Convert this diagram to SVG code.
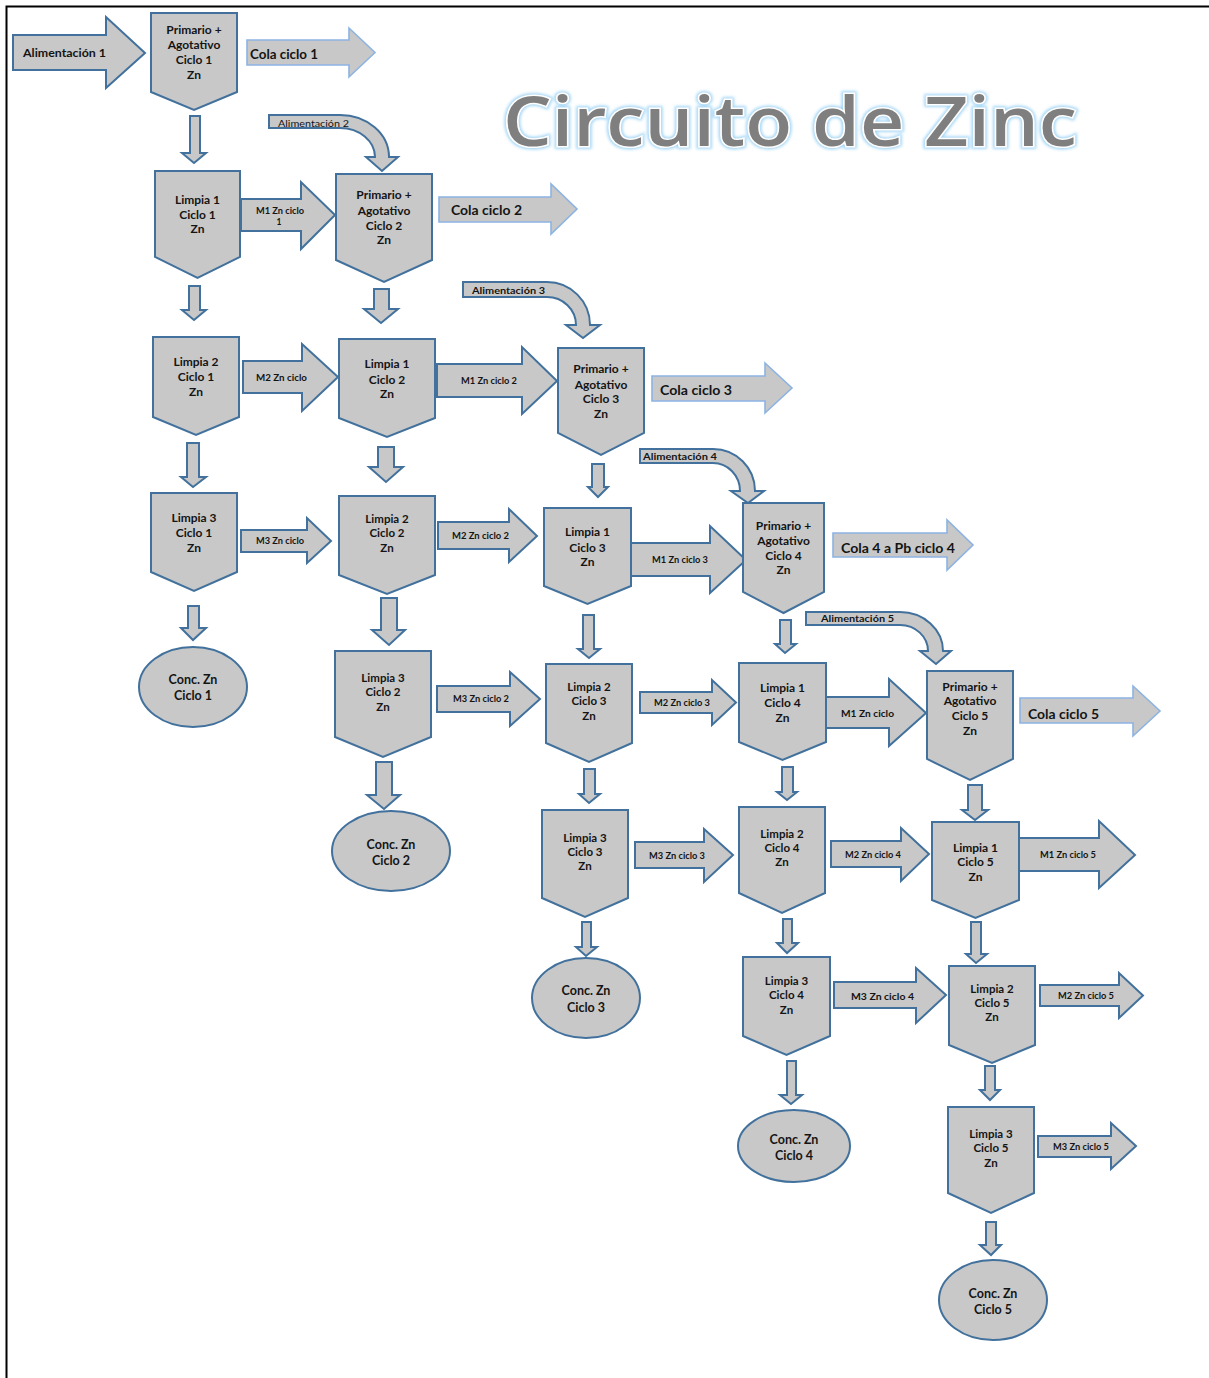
<svg xmlns="http://www.w3.org/2000/svg" width="1209" height="1378" viewBox="0 0 1209 1378">
  <defs>
    <style>
      .n { fill:#c8c8c8; stroke:#41719c; stroke-width:2; stroke-linejoin:miter; }
      .c { fill:#c8c8c8; stroke:#8db3e2; stroke-width:1.6; }
      text { font-family: Lato, "Liberation Sans", sans-serif; font-weight:700; fill:#141414; }
      .t { font-size:12px; text-anchor:middle; }
      .k { font-size:11.5px; }
      .s { font-size:8.5px; text-anchor:middle; }
      .l { font-size:13.5px; }
      .f { font-size:9.5px; }
      .reg { font-weight:400; }
      .ttl { font-family: "Open Sans", Lato, sans-serif; font-weight:600; font-size:68px; }
    </style>
    <filter id="glow" x="-5%" y="-30%" width="110%" height="160%">
      <feGaussianBlur stdDeviation="1.8"/>
    </filter>
  </defs>
  <rect width="1209" height="1378" fill="#ffffff"/>
  <!-- page frame -->
  <path d="M6.5,1378 V6.5 H1209" fill="none" stroke="#000" stroke-width="2"/>

  <!-- title -->
  <g id="title">
    <text class="ttl" x="503" y="146" textLength="574" lengthAdjust="spacingAndGlyphs" fill="none" stroke="#9ad2f6" stroke-width="6" stroke-opacity="0.85" filter="url(#glow)">Circuito de Zinc</text>
    <text class="ttl" x="503" y="146" textLength="574" lengthAdjust="spacingAndGlyphs" fill="none" stroke="#ffffff" stroke-width="3">Circuito de Zinc</text>
    <text class="ttl" x="503" y="146" textLength="574" lengthAdjust="spacingAndGlyphs" style="fill:#7f7f7f">Circuito de Zinc</text>
  </g>

  <!-- connectors: flow arrows -->
  <g id="connectors">
    <!-- feed / tails -->
    <path class="n" d="M13,35 H106 V17 L145,53 L106,88 V70 H13 Z"/>
    <text class="f" x="23" y="57" textLength="83" lengthAdjust="spacingAndGlyphs" style="font-size:11px">Alimentación 1</text>
    <path class="c" d="M247,40 H349 V28 L375,52.5 L349,77 V65 H247 Z"/>
    <text class="l" x="250" y="59" textLength="68" lengthAdjust="spacingAndGlyphs">Cola ciclo 1</text>
    <path class="c" d="M439,197 H551 V184 L577,209 L551,234 V222 H439 Z"/>
    <text class="l" x="451" y="215" textLength="71" lengthAdjust="spacingAndGlyphs">Cola ciclo 2</text>
    <path class="c" d="M652,376 H765 V363 L792,388 L765,413 V401 H652 Z"/>
    <text class="l" x="660" y="395" textLength="72" lengthAdjust="spacingAndGlyphs">Cola ciclo 3</text>
    <path class="c" d="M833,533 H947 V520 L973,545 L947,570 V557 H833 Z"/>
    <text class="l" x="841" y="553" textLength="114" lengthAdjust="spacingAndGlyphs">Cola 4 a Pb ciclo 4</text>
    <path class="c" d="M1020,698 H1133 V686 L1160,711 L1133,736 V723 H1020 Z"/>
    <text class="l" x="1028" y="719" textLength="71" lengthAdjust="spacingAndGlyphs">Cola ciclo 5</text>

    <!-- curved feed arrows -->
    <path class="n" d="M269,115 H340 A49,42 0 0 1 389,157 H398 L382,171 L366,157 H375 A35,29 0 0 0 340,128 H269 Z"/>
    <text class="f reg" x="278" y="127" textLength="71" lengthAdjust="spacingAndGlyphs">Alimentación 2</text>
    <path class="n" d="M463,282 H547 A43,43 0 0 1 590,325 H600 L583,338 L566,325 H576 A29,28 0 0 0 547,297 H463 Z"/>
    <text class="f" x="472" y="294" textLength="73" lengthAdjust="spacingAndGlyphs">Alimentación 3</text>
    <path class="n" d="M640,449 H713 A42,42 0 0 1 755,491 H764 L748,503 L731,491 H740 A27,28 0 0 0 713,463 H640 Z"/>
    <text class="f" x="643" y="460" textLength="74" lengthAdjust="spacingAndGlyphs">Alimentación 4</text>
    <path class="n" d="M806,612 H900 A43,39 0 0 1 943,651 H951 L936,664 L920,651 H928 A28,26 0 0 0 900,625 H806 Z"/>
    <text class="f" x="821" y="622" textLength="73" lengthAdjust="spacingAndGlyphs">Alimentación 5</text>

    <!-- middlings arrows -->
    <path class="n" d="M241,199 H301 V182 L335,215 L301,249 V231 H241 Z"/>
    <text class="s" x="280" y="214" textLength="48" lengthAdjust="spacingAndGlyphs">M1 Zn ciclo</text>
    <text class="s" x="279" y="225">1</text>
    <path class="n" d="M243,361 H302 V344 L338,377 L302,411 V393 H243 Z"/>
    <text class="s" x="281.5" y="381" textLength="51" lengthAdjust="spacingAndGlyphs">M2 Zn ciclo</text>
    <path class="n" d="M437,364 H522 V347 L557,381 L522,414 V397 H437 Z"/>
    <text class="s" x="489" y="384" textLength="56" lengthAdjust="spacingAndGlyphs">M1 Zn ciclo 2</text>
    <path class="n" d="M241,530 H307 V518 L331,541 L307,563 V552 H241 Z"/>
    <text class="s" x="280" y="544" textLength="48" lengthAdjust="spacingAndGlyphs">M3 Zn ciclo</text>
    <path class="n" d="M438,522 H509 V509 L537,536 L509,562 V549 H438 Z"/>
    <text class="s" x="480.5" y="539" textLength="57" lengthAdjust="spacingAndGlyphs">M2 Zn ciclo 2</text>
    <path class="n" d="M631,543 H710 V526 L746,560 L710,593 V576 H631 Z"/>
    <text class="s" x="680" y="563" textLength="56" lengthAdjust="spacingAndGlyphs">M1 Zn ciclo 3</text>
    <path class="n" d="M437,686 H510 V672 L540,699 L510,726 V712 H437 Z"/>
    <text class="s" x="481" y="702" textLength="56" lengthAdjust="spacingAndGlyphs">M3 Zn ciclo 2</text>
    <path class="n" d="M640,692 H712 V680 L736,702.5 L712,725 V713 H640 Z"/>
    <text class="s" x="682" y="706" textLength="56" lengthAdjust="spacingAndGlyphs">M2 Zn ciclo 3</text>
    <path class="n" d="M826,697 H889 V679 L926,713 L889,746 V728 H826 Z"/>
    <text class="s" x="867.5" y="717" textLength="53" lengthAdjust="spacingAndGlyphs" style="font-size:9px">M1 Zn ciclo</text>
    <path class="n" d="M635,842 H704 V829 L733,855 L704,882 V868 H635 Z"/>
    <text class="s" x="677" y="859" textLength="56" lengthAdjust="spacingAndGlyphs">M3 Zn ciclo 3</text>
    <path class="n" d="M831,841 H901 V828 L929,854 L901,881 V867 H831 Z"/>
    <text class="s" x="873" y="858" textLength="56" lengthAdjust="spacingAndGlyphs">M2 Zn ciclo 4</text>
    <path class="n" d="M1019,838 H1099 V821 L1135,855 L1099,888 V871 H1019 Z"/>
    <text class="s" x="1068" y="858" textLength="56" lengthAdjust="spacingAndGlyphs">M1 Zn ciclo 5</text>
    <path class="n" d="M834,982 H916 V968 L946,995 L916,1023 V1008 H834 Z"/>
    <text class="s" x="882.5" y="1000" textLength="63" lengthAdjust="spacingAndGlyphs" style="font-size:9px">M3 Zn ciclo 4</text>
    <path class="n" d="M1040,985 H1119 V973 L1143,995.5 L1119,1018 V1006 H1040 Z"/>
    <text class="s" x="1086" y="999" textLength="56" lengthAdjust="spacingAndGlyphs">M2 Zn ciclo 5</text>
    <path class="n" d="M1038,1136 H1111 V1123 L1136,1146 L1111,1169 V1157 H1038 Z"/>
    <text class="s" x="1081" y="1150" textLength="56" lengthAdjust="spacingAndGlyphs">M3 Zn ciclo 5</text>

    <!-- downward transfers -->
    <path class="n" d="M190,116 H200 V153 H206 L194,163 L182,153 H190 Z"/>
    <path class="n" d="M189,286 H200 V310 H206 L194,320 L182,310 H189 Z"/>
    <path class="n" d="M374,289 H389 V309 H398 L381,323 L364,309 H374 Z"/>
    <path class="n" d="M187,443 H199 V477 H206 L193,487 L181,477 H187 Z"/>
    <path class="n" d="M378,447 H394 V467 H403 L386,482 L369,467 H378 Z"/>
    <path class="n" d="M592,464 H604 V487 H608 L598,497 L588,487 H592 Z"/>
    <path class="n" d="M188,606 H199 V628 H206 L193,640 L181,628 H188 Z"/>
    <path class="n" d="M381,598 H397 V630 H405 L389,645 L372,630 H381 Z"/>
    <path class="n" d="M583,615 H594 V649 H600 L589,658 L578,649 H583 Z"/>
    <path class="n" d="M780,620 H791 V644 H796 L785,653 L775,644 H780 Z"/>
    <path class="n" d="M376,762 H392 V795 H400 L384,809 L367,795 H376 Z"/>
    <path class="n" d="M584,769 H595 V794 H600 L589,803 L579,794 H584 Z"/>
    <path class="n" d="M782,767 H793 V792 H797 L787,800 L777,792 H782 Z"/>
    <path class="n" d="M968,785 H982 V810 H988 L975,820 L962,810 H968 Z"/>
    <path class="n" d="M582,922 H591 V947 H597 L586,956 L576,947 H582 Z"/>
    <path class="n" d="M783,919 H792 V943 H798 L787,953 L777,943 H783 Z"/>
    <path class="n" d="M971,922 H981 V954 H987 L976,963 L966,954 H971 Z"/>
    <path class="n" d="M787,1061 H796 V1095 H802 L791,1104 L780,1095 H787 Z"/>
    <path class="n" d="M985,1066 H995 V1090 H1000 L990,1100 L980,1090 H985 Z"/>
    <path class="n" d="M986,1222 H996 V1245 H1001 L991,1255 L980,1245 H986 Z"/>
  </g>

  <!-- cycle 1 -->
  <g id="primario-c1">
    <path class="n" d="M151,13 H237 V92 L194,110 L151,92 Z"/>
    <text class="t" x="194" y="34">Primario +</text>
    <text class="t" x="194" y="49">Agotativo</text>
    <text class="t" x="194" y="64">Ciclo 1</text>
    <text class="t" x="194" y="79">Zn</text>
  </g>
  <g id="limpia1-c1">
    <path class="n" d="M155,171 H240 V257 L197.5,278 L155,257 Z"/>
    <text class="t" x="197.5" y="204">Limpia 1</text>
    <text class="t" x="197.5" y="219">Ciclo 1</text>
    <text class="t" x="197.5" y="233">Zn</text>
  </g>
  <g id="limpia2-c1">
    <path class="n" d="M153,337 H239 V417 L196,435 L153,417 Z"/>
    <text class="t" x="196" y="366">Limpia 2</text>
    <text class="t" x="196" y="381">Ciclo 1</text>
    <text class="t" x="196" y="396">Zn</text>
  </g>
  <g id="limpia3-c1">
    <path class="n" d="M151,493 H237 V572 L194,591 L151,572 Z"/>
    <text class="t" x="194" y="522">Limpia 3</text>
    <text class="t" x="194" y="537">Ciclo 1</text>
    <text class="t" x="194" y="552">Zn</text>
  </g>
  <g id="conc-c1">
    <ellipse class="n" cx="193" cy="687" rx="54" ry="40"/>
    <text class="t" x="193" y="684" style="font-size:12.5px">Conc. Zn</text>
    <text class="t" x="193" y="700" style="font-size:12.5px">Ciclo 1</text>
  </g>

  <!-- cycle 2 -->
  <g id="primario-c2">
    <path class="n" d="M336,174 H432 V260 L384,282 L336,260 Z"/>
    <text class="t" x="384" y="199">Primario +</text>
    <text class="t" x="384" y="215">Agotativo</text>
    <text class="t" x="384" y="230">Ciclo 2</text>
    <text class="t" x="384" y="244">Zn</text>
  </g>
  <g id="limpia1-c2">
    <path class="n" d="M339,339 H435 V418 L387,437 L339,418 Z"/>
    <text class="t" x="387" y="368">Limpia 1</text>
    <text class="t" x="387" y="384">Ciclo 2</text>
    <text class="t" x="387" y="398">Zn</text>
  </g>
  <g id="limpia2-c2">
    <path class="n" d="M339,496 H435 V575 L387,594 L339,575 Z"/>
    <text class="t k" x="387" y="523">Limpia 2</text>
    <text class="t k" x="387" y="537">Ciclo 2</text>
    <text class="t k" x="387" y="552">Zn</text>
  </g>
  <g id="limpia3-c2">
    <path class="n" d="M335,651 H431 V737 L383,757 L335,737 Z"/>
    <text class="t k" x="383" y="682">Limpia 3</text>
    <text class="t k" x="383" y="696">Ciclo 2</text>
    <text class="t k" x="383" y="711">Zn</text>
  </g>
  <g id="conc-c2">
    <ellipse class="n" cx="391" cy="851" rx="59" ry="40"/>
    <text class="t" x="391" y="849" style="font-size:12.5px">Conc. Zn</text>
    <text class="t" x="391" y="865" style="font-size:12.5px">Ciclo 2</text>
  </g>

  <!-- cycle 3 -->
  <g id="primario-c3">
    <path class="n" d="M558,348 H644 V433 L601,455 L558,433 Z"/>
    <text class="t" x="601" y="373">Primario +</text>
    <text class="t" x="601" y="389">Agotativo</text>
    <text class="t" x="601" y="403">Ciclo 3</text>
    <text class="t" x="601" y="418">Zn</text>
  </g>
  <g id="limpia1-c3">
    <path class="n" d="M544,508 H631 V586 L587.5,604 L544,586 Z"/>
    <text class="t" x="587.5" y="536">Limpia 1</text>
    <text class="t" x="587.5" y="552">Ciclo 3</text>
    <text class="t" x="587.5" y="566">Zn</text>
  </g>
  <g id="limpia2-c3">
    <path class="n" d="M546,664 H632 V743 L589,762 L546,743 Z"/>
    <text class="t k" x="589" y="691">Limpia 2</text>
    <text class="t k" x="589" y="705">Ciclo 3</text>
    <text class="t k" x="589" y="720">Zn</text>
  </g>
  <g id="limpia3-c3">
    <path class="n" d="M542,810 H628 V898 L585,917 L542,898 Z"/>
    <text class="t k" x="585" y="842">Limpia 3</text>
    <text class="t k" x="585" y="856">Ciclo 3</text>
    <text class="t k" x="585" y="870">Zn</text>
  </g>
  <g id="conc-c3">
    <ellipse class="n" cx="586" cy="998" rx="54" ry="40"/>
    <text class="t" x="586" y="995" style="font-size:12.5px">Conc. Zn</text>
    <text class="t" x="586" y="1012" style="font-size:12.5px">Ciclo 3</text>
  </g>

  <!-- cycle 4 -->
  <g id="primario-c4">
    <path class="n" d="M743,503 H824 V592 L783.5,613 L743,592 Z"/>
    <text class="t" x="783.5" y="530">Primario +</text>
    <text class="t" x="783.5" y="545">Agotativo</text>
    <text class="t" x="783.5" y="560">Ciclo 4</text>
    <text class="t" x="783.5" y="574">Zn</text>
  </g>
  <g id="limpia1-c4">
    <path class="n" d="M739,663 H826 V742 L782.5,760 L739,742 Z"/>
    <text class="t" x="782.5" y="692">Limpia 1</text>
    <text class="t" x="782.5" y="707">Ciclo 4</text>
    <text class="t" x="782.5" y="722">Zn</text>
  </g>
  <g id="limpia2-c4">
    <path class="n" d="M739,807 H825 V893 L782,913 L739,893 Z"/>
    <text class="t k" x="782" y="838">Limpia 2</text>
    <text class="t k" x="782" y="852">Ciclo 4</text>
    <text class="t k" x="782" y="866">Zn</text>
  </g>
  <g id="limpia3-c4">
    <path class="n" d="M743,957 H830 V1036 L786.5,1055 L743,1036 Z"/>
    <text class="t k" x="786.5" y="985">Limpia 3</text>
    <text class="t k" x="786.5" y="999">Ciclo 4</text>
    <text class="t k" x="786.5" y="1014">Zn</text>
  </g>
  <g id="conc-c4">
    <ellipse class="n" cx="794" cy="1146" rx="56" ry="36"/>
    <text class="t" x="794" y="1144" style="font-size:12.5px">Conc. Zn</text>
    <text class="t" x="794" y="1160" style="font-size:12.5px">Ciclo 4</text>
  </g>

  <!-- cycle 5 -->
  <g id="primario-c5">
    <path class="n" d="M927,671 H1013 V759 L970,780 L927,759 Z"/>
    <text class="t" x="970" y="691">Primario +</text>
    <text class="t" x="970" y="705">Agotativo</text>
    <text class="t" x="970" y="720">Ciclo 5</text>
    <text class="t" x="970" y="735">Zn</text>
  </g>
  <g id="limpia1-c5">
    <path class="n" d="M932,822 H1019 V900 L975.5,918 L932,900 Z"/>
    <text class="t" x="975.5" y="852">Limpia 1</text>
    <text class="t" x="975.5" y="866">Ciclo 5</text>
    <text class="t" x="975.5" y="881">Zn</text>
  </g>
  <g id="limpia2-c5">
    <path class="n" d="M949,966 H1035 V1045 L992,1063 L949,1045 Z"/>
    <text class="t k" x="992" y="993">Limpia 2</text>
    <text class="t k" x="992" y="1007">Ciclo 5</text>
    <text class="t k" x="992" y="1021">Zn</text>
  </g>
  <g id="limpia3-c5">
    <path class="n" d="M948,1107 H1034 V1193 L991,1213 L948,1193 Z"/>
    <text class="t k" x="991" y="1138">Limpia 3</text>
    <text class="t k" x="991" y="1152">Ciclo 5</text>
    <text class="t k" x="991" y="1167">Zn</text>
  </g>
  <g id="conc-c5">
    <ellipse class="n" cx="993" cy="1300" rx="54" ry="40"/>
    <text class="t" x="993" y="1298" style="font-size:12.5px">Conc. Zn</text>
    <text class="t" x="993" y="1314" style="font-size:12.5px">Ciclo 5</text>
  </g>
</svg>
